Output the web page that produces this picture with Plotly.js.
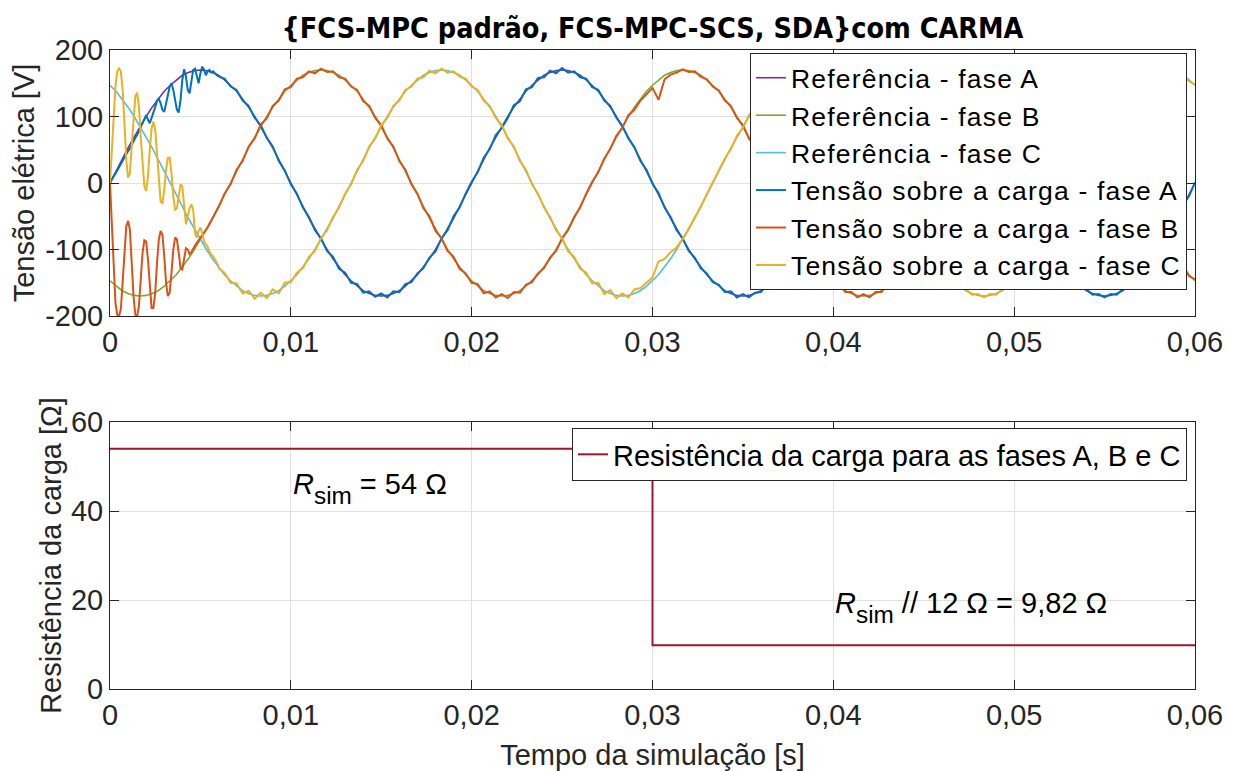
<!DOCTYPE html>
<html><head><meta charset="utf-8">
<script src="https://cdn.plot.ly/plotly-3.0.1.min.js"></script>
<style>html,body{margin:0;padding:0;background:#fff}
.legendtext{letter-spacing:1.2px}</style>
</head><body><div id="chart" style="width:1237px;height:771px"></div>
<script>
// ---- data ----
// reference voltages, sampled every 1/3000 s from t = 0 to 0.06 s
const refA = [
0,18,35,53,69,85,100,114,126,138,147,155,162,166,169,170,169,166,162,155,147,138,126,114,100,85,69,53,35,18,0,-18,-35,-53,-69,-85,-100,-114,-126,-138,-147,-155,-162,-166,-169,-170,-169,-166,-162,-155,-147,-138,-126,-114,-100,-85,-69,-53,-35,-18,
0,18,35,53,69,85,100,114,126,138,147,155,162,166,169,170,169,166,162,155,147,138,126,114,100,85,69,53,35,18,0,-18,-35,-53,-69,-85,-100,-114,-126,-138,-147,-155,-162,-166,-169,-170,-169,-166,-162,-155,-147,-138,-126,-114,-100,-85,-69,-53,-35,-18,
0,18,35,53,69,85,100,114,126,138,147,155,162,166,169,170,169,166,162,155,147,138,126,114,100,85,69,53,35,18,0,-18,-35,-53,-69,-85,-100,-114,-126,-138,-147,-155,-162,-166,-169,-170,-169,-166,-162,-155,-147,-138,-126,-114,-100,-85,-69,-53,-35,-18,
0];
const refB = [
-147,-155,-162,-166,-169,-170,-169,-166,-162,-155,-147,-138,-126,-114,-100,-85,-69,-53,-35,-18,0,18,35,53,69,85,100,114,126,138,147,155,162,166,169,170,169,166,162,155,147,138,126,114,100,85,69,53,35,18,0,-18,-35,-53,-69,-85,-100,-114,-126,-138,
-147,-155,-162,-166,-169,-170,-169,-166,-162,-155,-147,-138,-126,-114,-100,-85,-69,-53,-35,-18,0,18,35,53,69,85,100,114,126,138,147,155,162,166,169,170,169,166,162,155,147,138,126,114,100,85,69,53,35,18,0,-18,-35,-53,-69,-85,-100,-114,-126,-138,
-147,-155,-162,-166,-169,-170,-169,-166,-162,-155,-147,-138,-126,-114,-100,-85,-69,-53,-35,-18,0,18,35,53,69,85,100,114,126,138,147,155,162,166,169,170,169,166,162,155,147,138,126,114,100,85,69,53,35,18,0,-18,-35,-53,-69,-85,-100,-114,-126,-138,
-147];
const refC = [
147,138,126,114,100,85,69,53,35,18,0,-18,-35,-53,-69,-85,-100,-114,-126,-138,-147,-155,-162,-166,-169,-170,-169,-166,-162,-155,-147,-138,-126,-114,-100,-85,-69,-53,-35,-18,0,18,35,53,69,85,100,114,126,138,147,155,162,166,169,170,169,166,162,155,
147,138,126,114,100,85,69,53,35,18,0,-18,-35,-53,-69,-85,-100,-114,-126,-138,-147,-155,-162,-166,-169,-170,-169,-166,-162,-155,-147,-138,-126,-114,-100,-85,-69,-53,-35,-18,0,18,35,53,69,85,100,114,126,138,147,155,162,166,169,170,169,166,162,155,
147,138,126,114,100,85,69,53,35,18,0,-18,-35,-53,-69,-85,-100,-114,-126,-138,-147,-155,-162,-166,-169,-170,-169,-166,-162,-155,-147,-138,-126,-114,-100,-85,-69,-53,-35,-18,0,18,35,53,69,85,100,114,126,138,147,155,162,166,169,170,169,166,162,155,
147];

// load voltages, start-up transient: every 0.0001 s from 0 to 0.006 s
const loadA_start = [0,6,10,14,19,23,30,34,38,43, 48,52,58,63,68,72,78,83,88,96, 102,95,90,98,105,114,124,127,120,110, 107,118,132,145,150,140,125,110,106,125, 155,171,160,140,135,152,170,172,160,150, 165,175,170,162,168,170,166,168,165,162,160];
const loadB_start = [0,-60,-130,-180,-198,-200,-190,-150,-100,-65, -57,-70,-120,-170,-198,-201,-185,-145,-105,-86, -88,-115,-160,-188,-188,-165,-120,-85,-72,-78, -110,-150,-170,-165,-135,-100,-82,-85,-105,-128, -130,-112,-98,-100,-107,-104,-98,-94,-90,-86, -84,-80,-75,-72,-67,-62,-57,-52,-47,-41,-36];
const loadC_start = [0,45,100,145,168,172,168,140,90,35, 8,15,55,100,130,136,115,70,25,-5, -12,10,50,82,92,80,45,5,-28,-30, -10,20,38,38,15,-20,-40,-38,-20,-2, -5,-40,-62,-50,-38,-32,-40,-75,-82,-72, -67,-75,-88,-92,-96,-103,-108,-110,-116,-120,-124];

// load voltages, rest of the run: every 1/3000 s from 0.006 to 0.06 s
const loadA_rest = [
160,157,145,140,124,116,98,87,68,55,33,19,
-2,-16,-37,-51,-71,-83,-102,-111,-129,-135,-150,-152,
-165,-163,-171,-166,-172,-163,-164,-152,-149,-136,-128,-112,
-103,-83,-71,-50,-37,-16,2,16,38,51,72,83,
98,117,123,141,144,158,159,169,165,173,166,168,
159,157,144,140,124,116,98,86,67,54,33,20,
-1,-15,-37,-51,-71,-83,-102,-112,-128,-136,-149,-153,
-164,-163,-172,-167,-172,-165,-164,-152,-149,-135,-128,-111,
-102,-83,-71,-51,-37,-16,2,16,37,51,71,83,
102,112,128,136,149,153,164,164,172,167,171,164,
164,153,149,136,128,112,102,83,71,51,37,16,
2,-20,-33,-55,-67,-87,-98,-116,-124,-140,-145,-157,
-160,-168,-167,-172,-167,-168,-160,-157,-145,-140,-124,-116,
-98,-87,-67,-55,-33,-20,1];
const loadB_rest = [
-37,-16,-2,20,33,55,67,88,97,116,124,141,
144,157,159,168,165,172,167,168,159,157,145,140,
123,116,98,87,67,55,33,20,-2,-16,-38,-50,
-72,-83,-102,-111,-129,-136,-150,-152,-166,-163,-172,-167,
-173,-164,-165,-153,-149,-136,-128,-112,-102,-83,-71,-51,
-37,-16,2,16,37,51,71,83,102,110,124,134,
143,125,156,163,166,171,167,168,160,156,145,139,
124,116,98,87,67,55,33,20,-2,-16,-37,-51,
-71,-83,-102,-112,-128,-136,-150,-153,-164,-164,-172,-167,
-172,-164,-164,-152,-149,-135,-128,-111,-102,-83,-71,-51,
-37,-16,2,16,37,51,71,83,102,112,128,136,
149,153,164,164,172,167,171,164,164,153,149,136,
128,112,102,83,71,51,37,16,2,-20,-33,-55,
-67,-87,-98,-116,-124,-140,-145];
const loadC_rest = [
-128,-135,-150,-151,-166,-162,-174,-165,-173,-160,-166,-150,
-149,-135,-128,-111,-102,-83,-71,-51,-37,-16,-2,20,
33,55,67,87,98,116,124,140,145,157,159,169,
165,172,166,168,160,157,145,140,124,116,98,87,
67,55,33,20,-2,-16,-37,-51,-71,-83,-103,-111,
-129,-135,-151,-150,-167,-161,-173,-166,-172,-160,-158,-150,
-142,-118,-114,-104,-97,-84,-70,-52,-36,-17,1,17,
37,51,71,83,102,112,128,136,149,153,164,164,
172,167,171,164,164,153,149,136,128,112,102,83,
71,51,37,16,2,-20,-33,-55,-67,-87,-98,-116,
-124,-140,-145,-157,-160,-168,-167,-172,-167,-168,-160,-157,
-145,-140,-124,-116,-98,-87,-67,-55,-33,-20,1,16,
37,51,71,83,102,112,128,136,149,153,164,164,
172,167,171,164,164,153,148];

// load resistance (step at 0.03 s)
const resTime = [0, 0.03, 0.06];
const resValue = [54, 9.82, 9.82];

// names and ticks
const refNames = ['Referência - fase A','Referência - fase B','Referência - fase C'];
const loadNames = ['Tensão sobre a carga - fase A','Tensão sobre a carga - fase B','Tensão sobre a carga - fase C'];
const resName = 'Resistência da carga para as fases A, B e C';
const xTickVals = [0,0.01,0.02,0.03,0.04,0.05,0.06];
const xTickText = ['0','0,01','0,02','0,03','0,04','0,05','0,06'];
const vTickVals = [-200,-100,0,100,200];
const vTickText = ['-200','-100','0','100','200'];
const rTickVals = [0,20,40,60];
const rTickText = ['0','20','40','60'];

// ---- styling / sampling ----
const dtRef = 1/3000, dtStart = 0.0001, tRest0 = 0.006;
const refColors = ['#7E2F8E','#77AC30','#4DBEEE'];
const loadColors = ['#0072BD','#D95319','#EDB120'];
const FONT = 'Liberation Sans, Arial, Helvetica, sans-serif';

const traces = [];
[refA, refB, refC].forEach((v,i)=>traces.push({
  type:'scatter', mode:'lines', x0:0, dx:dtRef, y:v, name:refNames[i],
  line:{color:refColors[i], width:1.6}, xaxis:'x', yaxis:'y', legend:'legend', hoverinfo:'skip'
}));
[[loadA_start,loadA_rest],[loadB_start,loadB_rest],[loadC_start,loadC_rest]].forEach((p,i)=>{
  traces.push({type:'scatter', mode:'lines', x0:0, dx:dtStart, y:p[0], name:loadNames[i],
    legendgroup:'L'+i, line:{color:loadColors[i], width:2}, xaxis:'x', yaxis:'y', legend:'legend', hoverinfo:'skip'});
  traces.push({type:'scatter', mode:'lines', x0:tRest0, dx:dtRef, y:p[1], name:loadNames[i],
    legendgroup:'L'+i, showlegend:false, line:{color:loadColors[i], width:2}, xaxis:'x', yaxis:'y', hoverinfo:'skip'});
});
traces.push({type:'scatter', mode:'lines', x:resTime, y:resValue, name:resName,
  line:{color:'#A2142F', width:2, shape:'hv'}, xaxis:'x2', yaxis:'y2', legend:'legend2', hoverinfo:'skip'});

const axisCommon = {
  showline:true, linecolor:'#262626', linewidth:1, mirror:'ticks',
  ticks:'inside', ticklen:9, tickwidth:1, tickcolor:'#262626',
  showgrid:true, gridcolor:'#e0e0e0', gridwidth:1, zeroline:false,
  tickfont:{family:FONT, size:29, color:'#262626'}, tickmode:'array', fixedrange:true
};
const titleFont = {family:FONT, size:29, color:'#262626'};
const SUB = '<sub><span style="font-size:120%;baseline-shift:-4px">sim</span></sub>';

const layout = {
  width:1237, height:771,
  margin:{l:110, r:42, t:50, b:82},
  paper_bgcolor:'#ffffff', plot_bgcolor:'#ffffff',
  showlegend:true,
  font:{family:FONT, size:29, color:'#262626'},
  title:{text:'{FCS-MPC padrão, FCS-MPC-SCS, SDA}com CARMA',
    font:{family:'Liberation Sans Narrow, DejaVu Sans Condensed, Arial Narrow, sans-serif', size:28.5, weight:700, color:'#000000'},
    x:0.5, xref:'paper', xanchor:'center', y:1-28/771, yref:'container', yanchor:'middle'},
  xaxis:Object.assign({}, axisCommon, {domain:[0,1], anchor:'y', range:[0,0.06], tickvals:xTickVals, ticktext:xTickText}),
  yaxis:Object.assign({}, axisCommon, {domain:[0.5837,1], anchor:'x', range:[-200,200], tickvals:vTickVals, ticktext:vTickText,
    title:{text:'Tensão elétrica [V]', font:titleFont, standoff:1}}),
  xaxis2:Object.assign({}, axisCommon, {domain:[0,1], anchor:'y2', range:[0,0.06], tickvals:xTickVals, ticktext:xTickText,
    title:{text:'Tempo da simulação [s]', font:titleFont, standoff:14}}),
  yaxis2:Object.assign({}, axisCommon, {domain:[0,0.4178], anchor:'x2', range:[0,60], tickvals:rTickVals, ticktext:rTickText,
    title:{text:'Resistência da carga [Ω]', font:titleFont, standoff:0}}),
  legend:{x:0.9926, xanchor:'right', y:0.9953, yanchor:'top', bgcolor:'#ffffff', bordercolor:'#262626', borderwidth:1,
    font:{family:FONT, size:26.5, color:'#000000'}, tracegroupgap:0, itemwidth:30, traceorder:'normal'},
  legend2:{x:0.9926, xanchor:'right', y:0.4085, yanchor:'top', bgcolor:'#ffffff', bordercolor:'#262626', borderwidth:1,
    font:{family:FONT, size:29, color:'#000000'}, itemwidth:30},
  annotations:[
    {xref:'x2', yref:'y2', x:0.01, y:45, xanchor:'left', yanchor:'middle', showarrow:false,
     text:'<i>R</i>' + SUB + ' = 54 Ω', font:{family:FONT, size:29, color:'#000000'}},
    {xref:'x2', yref:'y2', x:0.04, y:18.4, xanchor:'left', yanchor:'middle', showarrow:false,
     text:'<i>R</i>' + SUB + ' // 12 Ω = 9,82 Ω', font:{family:FONT, size:29, color:'#000000'}}
  ]
};

Plotly.newPlot('chart', traces, layout, {displayModeBar:false, staticPlot:true});
</script>
</body></html>
